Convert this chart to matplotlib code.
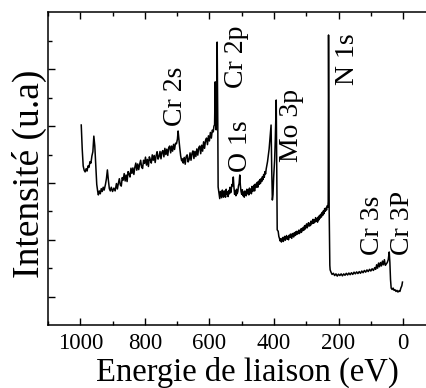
import numpy as np
import matplotlib
matplotlib.use('Agg')
import matplotlib.pyplot as plt
from matplotlib.ticker import MultipleLocator, FixedLocator

plt.rcParams['font.family'] = ['Liberation Serif', 'DejaVu Serif']

# spectre XPS (energie de liaison en eV, intensite u.a.)
energie = [
    997, 994, 991, 988, 985, 982, 979, 976, 973, 970, 967, 964, 961, 958, 955,
    952, 949, 946, 944, 941, 938, 935, 932, 929, 926, 922, 919, 916, 913, 910,
    907, 904, 900, 896, 892,
    888, 885, 882, 879, 876, 873, 870, 867, 864, 861, 858, 855, 852, 849, 846,
    843, 840, 837, 834, 831, 828, 825, 822, 819, 816, 813, 810, 807, 804, 801,
    798, 795, 792, 789, 786, 783, 780, 777, 774, 771, 768, 765, 762, 759, 756,
    753, 750, 747, 744, 741, 738, 735, 732, 729, 726, 723, 720, 717, 714, 711,
    708, 705, 702, 699, 697, 695, 692, 689, 686, 683, 681,
    678, 675, 672, 669, 666, 663, 660, 657, 654, 651, 648, 645, 642, 639, 636,
    633, 630, 627, 624, 621, 618, 615, 612, 609, 606, 603, 600, 597, 594, 591,
    588, 586, 584, 582, 580, 579, 577, 576, 574, 573,
    570, 568, 566, 564, 562, 560, 558, 556, 554, 552, 550, 548, 546, 544, 542,
    540, 538, 536, 534, 532, 530, 528, 526, 524, 522, 520, 518, 516, 514, 512,
    510, 508, 506, 504, 502, 500, 498, 496, 494, 492, 490, 488, 486, 484, 482,
    480, 478, 476, 474, 472, 470, 468, 466, 464, 462, 460, 458, 456, 454, 452,
    450, 448, 446, 444, 442, 440, 438, 436, 434, 432, 430, 428, 426, 424, 422,
    420, 418, 415, 412, 409, 407, 405, 403, 401, 398, 396, 393, 391, 390,
    387, 385, 383, 381, 379, 377, 375, 373, 371, 369, 367, 365, 363, 361, 359,
    357, 355, 353, 351, 349, 347, 345, 343, 341, 339, 337, 335, 333, 331, 329,
    327, 325, 323, 321, 319, 317, 315, 313, 311, 309, 307, 305, 303, 301, 299,
    297, 295, 293, 291, 289, 287, 285, 283, 281, 279, 277, 275, 273, 271, 269,
    267, 265, 263, 261, 259, 257, 255, 253, 251, 249, 247, 245, 243, 241, 239,
    237, 235, 233, 232, 231, 229, 227, 226,
    223, 220, 216, 212, 208, 204, 200, 196, 192, 188, 184, 180, 176, 172, 168,
    164, 160, 156, 152, 148, 144, 140, 136, 132, 128, 124, 120, 116, 112, 108,
    104, 100, 96, 92, 88, 85, 82, 79, 76, 73, 70, 67, 64, 61, 58,
    55, 52, 49, 46, 43, 41, 39, 37, 34, 31, 28, 25, 22, 19, 16,
    13, 10, 7, 4, 2,
]
intensite = [
    6.04, 5.2, 4.6, 4.45, 4.39, 4.5, 4.42, 4.6, 4.55, 4.75, 4.7, 4.95, 5.1, 5.65, 5.3,
    4.6, 3.95, 3.7, 3.58, 3.72, 3.62, 3.8, 3.7, 3.85, 3.75, 3.95, 4.15, 4.46, 4.1, 3.8,
    3.72, 3.85, 3.7, 3.82, 3.72,
    3.98, 3.79, 3.99, 4.15, 3.93, 3.89, 4.19, 4.10, 4.33, 4.07, 4.28, 4.05, 4.40, 4.32, 4.21,
    4.52, 4.34, 4.53, 4.30, 4.55, 4.70, 4.45, 4.67, 4.47, 4.66, 4.80, 4.56, 4.51, 4.80, 4.69,
    4.91, 4.63, 4.83, 4.58, 4.92, 4.82, 4.70, 4.99, 4.80, 4.97, 4.72, 4.96, 5.10, 4.84, 4.93,
    5.11, 4.85, 5.09, 5.14, 4.92, 5.22, 5.00, 5.19, 4.97, 5.25, 5.30, 5.06, 5.30, 5.12, 5.36,
    5.18, 5.40, 5.38, 5.55, 5.83, 5.6, 5.25, 4.95, 4.78, 4.85, 4.7,
    4.90, 4.66, 4.93, 4.99, 4.74, 4.82, 5.06, 4.80, 5.04, 5.13, 4.86, 5.11, 4.93, 5.20, 4.98,
    5.25, 5.30, 5.03, 5.33, 5.12, 5.45, 5.22, 5.50, 5.58, 5.35, 5.66, 5.48, 5.78, 5.58, 5.86,
    5.8, 6.0, 6.05, 7.56, 6.2, 5.87, 7.5, 8.96, 6.0, 3.86,
    3.62, 3.45, 3.7, 3.58, 3.48, 3.75, 3.6, 3.5, 3.72, 3.66, 3.5, 3.78, 3.6, 3.68, 3.52,
    3.74, 3.62, 3.85, 3.66, 3.8, 3.95, 3.9, 4.21, 3.85, 3.6, 3.72, 3.55, 3.78, 3.62, 3.7,
    3.9, 3.98, 4.28, 3.9, 3.7, 3.6, 3.76, 3.55, 3.68, 3.5, 3.72, 3.6, 3.55, 3.78, 3.62,
    3.75, 3.58, 3.82, 3.66, 3.78, 3.62, 3.88, 3.7, 3.8, 3.92, 3.72, 3.96, 3.84, 3.9, 4.02,
    3.85, 4.06, 3.95, 4.12, 3.98, 4.15, 4.05, 4.22, 4.12, 4.3, 4.2, 4.4, 4.32, 4.5, 4.62,
    4.75, 4.92, 5.2, 5.6, 6.04, 4.5, 3.4, 3.6, 4.2, 4.8, 5.5, 6.92, 4.0, 2.35,
    2.3, 2.12, 2.05, 1.96, 2.04, 1.92, 2.0, 2.08, 1.94, 2.05, 2.12, 1.98, 2.06, 2.15, 2.02,
    2.1, 2.0, 2.16, 2.08, 2.2, 2.12, 2.05, 2.22, 2.14, 2.1, 2.25, 2.15, 2.28, 2.18, 2.3,
    2.2, 2.24, 2.34, 2.22, 2.3, 2.38, 2.26, 2.4, 2.32, 2.44, 2.34, 2.5, 2.38, 2.46, 2.56,
    2.42, 2.52, 2.6, 2.48, 2.58, 2.5, 2.66, 2.56, 2.62, 2.72, 2.58, 2.7, 2.62, 2.78, 2.66,
    2.74, 2.62, 2.8, 2.7, 2.86, 2.76, 2.9, 2.8, 2.96, 2.86, 3.02, 2.92, 3.1, 3.0, 3.12,
    3.05, 3.2, 3.15, 3.35, 9.21, 3.0, 1.1, 0.94,
    0.85, 0.78, 0.82, 0.74, 0.8, 0.72, 0.79, 0.74, 0.8, 0.73, 0.8, 0.75, 0.82, 0.76, 0.83,
    0.77, 0.84, 0.78, 0.86, 0.8, 0.87, 0.81, 0.88, 0.82, 0.9, 0.84, 0.92, 0.86, 0.94, 0.88,
    0.96, 0.9, 0.98, 0.92, 1.02, 0.96, 1.12, 1.0, 1.18, 1.05, 1.2, 1.08, 1.25, 1.12, 1.3,
    1.1, 1.15, 1.2, 1.3, 1.57, 1.2, 0.6, 0.3, 0.25, 0.3, 0.22, 0.24, 0.18, 0.22, 0.16,
    0.2, 0.18, 0.3, 0.38, 0.51,
]

pics = ['Cr 2s', 'Cr 2p', 'O 1s', 'Mo 3p', 'N 1s', 'Cr 3s', 'Cr 3P']
pics_x = [706, 517, 505, 347, 173, 96, 3]
pics_y = [6.0, 7.35, 4.4, 4.74, 7.45, 1.46, 1.46]

fig = plt.figure(figsize=(4.27, 3.88), dpi=100)
ax = fig.add_axes([0.1124, 0.1624, 0.8876, 0.8067])

ax.plot(energie, intensite, color='black', linewidth=1.1)

for nom, x, y in zip(pics, pics_x, pics_y):
    ax.text(x, y, nom, rotation=90, ha='center', va='bottom', fontsize=20)

ax.set_xlim(1100, -74)
ax.set_ylim(-1, 10.02)

ax.xaxis.set_major_locator(MultipleLocator(200))
ax.xaxis.set_minor_locator(MultipleLocator(100))
ax.yaxis.set_major_locator(FixedLocator([0, 2, 4, 6, 8]))
ax.yaxis.set_minor_locator(FixedLocator([1, 3, 5, 7, 9]))
ax.tick_params(which='both', direction='in', top=True, right=False, labelleft=False, width=1.0)
ax.tick_params(which='major', length=5, labelsize=16.5, pad=6)
ax.tick_params(which='minor', length=3)

ax.spines['right'].set_visible(False)
for s in ['left', 'bottom', 'top']:
    ax.spines[s].set_linewidth(1.1)

ax.set_xlabel('Energie de liaison (eV)', fontsize=23.5)
ax.set_ylabel('Intensité (u.a)', fontsize=27)
ax.xaxis.set_label_coords(0.526, -0.10)
ax.yaxis.set_label_coords(-0.002, 0.482)

plt.savefig('out.png', dpi=100)
